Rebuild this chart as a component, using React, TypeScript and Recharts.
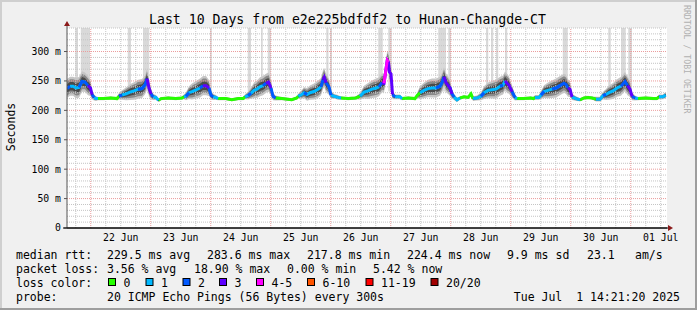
import {
  Area,
  CartesianGrid,
  ComposedChart,
  Line,
  ReferenceArea,
  ReferenceLine,
  XAxis,
  YAxis,
} from "recharts";

// time axis: hours since 22 Jun 00:00
const hours = [
  -9.5, -8.3, -7.1, -5.9, -4.7, -3.5, -2.3, -1.1, -0.1, 0.5, 1.3, 2.1, 2.9, 5, 8, 10.5,
  11.3, 12.5, 14.1, 15.7, 17.3, 18.9, 20.5, 21.7, 22.5, 23.3, 24.1, 24.9, 26.1, 27.1, 28.1, 31, 34, 36.5,
  37.3, 38.1, 39.3, 40.5, 42.1, 43.7, 44.9, 46.1, 47.3, 48.1, 48.9, 50.1, 50.9, 54, 56.4, 59, 61,
  61.7, 62.9, 64.1, 65.3, 66.5, 67.7, 68.9, 70.1, 71.1, 72.1, 72.9, 73.9, 76.5, 80.4, 82.4,
  83, 84.1, 85.3, 86.5, 87.7, 89.3, 90.9, 92.1, 92.9, 93.4, 94.1, 95.3, 96.1, 97.3, 98.9, 100.1, 103, 106,
  107.7, 109.3, 110.9, 112.5, 114.1, 115.3, 116.5, 117.3, 118.1, 118.6, 119.1, 119.5, 120.1, 120.7, 121.7, 123.7, 124.5, 127, 129.7,
  130.5, 131.7, 133.3, 134.9, 136.5, 138.1, 139.7, 140.5, 141.3, 142.1, 142.9, 143.7, 144.5, 145.3, 146.5, 147.7, 149.3, 150.9, 152.1, 152.9, 154.5,
  156.1, 157.3, 158.9, 160.5, 162.1, 163.7, 164.9, 165.7, 166.5, 167.3, 168.5, 169.7, 170.5, 173, 176, 177.1,
  177.7, 179.3, 180.1, 181.3, 182.9, 184.5, 186.1, 187.7, 189.3, 190.1, 190.9, 191.7, 192.5, 194.1, 195.7, 197.3, 198.9, 200.5, 202.1, 203.7,
  204.9, 206.1, 207.3, 208.9, 210.5, 212.1, 213.7, 214.7, 215.7, 216.5, 217.7, 218.9, 222, 225, 226.4, 227.3, 228.9, 230,
];

// median rtt in ms
const median = [
  237, 241, 241, 238, 239, 249, 248, 242, 238, 227, 222, 220, 220, 220, 221, 220,
  224, 226, 228, 231, 233, 236, 237, 243, 254, 238, 228, 223, 222, 217, 220, 221, 220, 221,
  223, 224, 230, 232, 235, 238, 242, 242, 238, 226, 223, 222, 220, 220, 218, 220, 220,
  223, 225, 229, 234, 236, 240, 242, 246, 248, 238, 224, 221, 220, 218, 221,
  224, 226, 230, 227, 230, 232, 236, 240, 252, 256, 247, 240, 226, 224, 222, 221, 220, 221,
  224, 231, 233, 236, 238, 240, 247, 246, 270, 285, 282, 265, 262, 227, 223, 223, 220, 221, 220,
  225, 230, 234, 237, 238, 238, 241, 247, 257, 247, 243, 238, 228, 223, 218, 221, 223, 222, 228, 220, 221,
  224, 230, 234, 235, 236, 241, 243, 250, 246, 243, 232, 222, 220, 220, 221, 220,
  222, 222, 226, 232, 234, 236, 238, 242, 246, 244, 238, 236, 223, 220, 218, 221, 222, 221, 219, 219,
  225, 227, 230, 233, 238, 241, 249, 242, 236, 224, 221, 220, 221, 220, 220, 223, 223, 226,
];

// loss bucket index into lossColors
const lossBucket = [
  2, 1, 1, 1, 2, 1, 2, 3, 3, 2, 1, 1, 0, 0, 0, 0,
  2, 1, 1, 1, 1, 2, 1, 2, 3, 3, 2, 1, 1, 0, 0, 0, 0, 0,
  1, 2, 1, 1, 1, 2, 3, 3, 2, 2, 1, 1, 0, 0, 0, 0, 0,
  1, 2, 1, 1, 1, 1, 2, 3, 3, 2, 2, 0, 0, 0, 0,
  1, 1, 2, 1, 1, 1, 1, 2, 3, 3, 2, 2, 1, 1, 1, 0, 0, 0,
  1, 1, 1, 1, 1, 2, 3, 4, 3, 4, 3, 3, 3, 2, 1, 1, 0, 0, 0,
  0, 1, 1, 1, 1, 2, 1, 2, 3, 3, 2, 3, 2, 1, 1, 0, 0, 0, 0, 1, 1,
  2, 1, 1, 1, 1, 2, 1, 3, 3, 3, 2, 1, 0, 0, 0, 0,
  1, 1, 2, 1, 1, 2, 1, 2, 2, 2, 3, 3, 1, 1, 0, 0, 0, 0, 1, 1,
  2, 1, 1, 1, 1, 2, 2, 3, 3, 2, 1, 0, 0, 0, 0, 1, 1, 2,
];

// half height of the smoke around the median, ms
const smokeSpread = [
  12, 12, 12, 13, 13, 13, 12, 12, 10, 6, 4, 3, 2, 2, 2, 2,
  4, 6, 8, 10, 11, 12, 12, 12, 12, 11, 7, 4, 3, 2, 2, 2, 2, 2,
  3, 5, 8, 10, 11, 12, 12, 12, 10, 6, 4, 3, 2, 2, 2, 2, 2,
  3, 5, 7, 10, 11, 12, 12, 12, 12, 10, 5, 3, 2, 2, 2,
  3, 5, 7, 8, 9, 10, 11, 11, 12, 12, 12, 10, 5, 3, 3, 2, 2, 2,
  4, 8, 10, 11, 12, 12, 12, 12, 12, 12, 12, 12, 10, 6, 3, 3, 2, 2, 2,
  3, 8, 10, 11, 12, 12, 12, 12, 12, 12, 11, 10, 6, 4, 3, 2, 2, 2, 3, 3, 3,
  5, 8, 10, 11, 12, 12, 12, 12, 12, 11, 8, 4, 2, 2, 2, 2,
  3, 3, 5, 8, 10, 11, 12, 12, 12, 12, 11, 10, 4, 3, 2, 2, 2, 2, 3, 3,
  5, 7, 9, 10, 11, 12, 12, 12, 10, 5, 3, 2, 2, 2, 2, 3, 3, 4,
];

// slow pings going off the top of the graph
const spikeStart = [-6.2, -4.0, 14.8, 20.9, 47.7, 62.8, 68.1, 70.8, 94.2, 95.7, 115.0, 119.0, 139.0, 143.0, 158.1, 160.1, 162.1, 165.7, 188.8, 207.0, 212.1, 215.0];
const spikeEnd = [-5.1, -0.3, 16.1, 23.4, 48.4, 64.1, 68.8, 72.1, 95.1, 96.5, 116.8, 120.4, 142.1, 144.1, 159.0, 161.0, 163.0, 166.6, 190.8, 208.0, 214.0, 216.5];

const dayTicks = [12, 36, 60, 84, 108, 132, 156, 180, 204, 228];
const dayLabels = ["22 Jun", "23 Jun", "24 Jun", "25 Jun", "26 Jun", "27 Jun", "28 Jun", "29 Jun", "30 Jun", "01 Jul"];
const yTicks = [0, 50, 100, 150, 200, 250, 300];

const lossColors = ["#26ff00", "#00b8ff", "#0059ff", "#5e00ff", "#ff00ff", "#ff5500", "#ff0000", "#a10000"];
const lossLabels = ["0", "1", "2", "3", "4-5", "6-10", "11-19", "20/20"];

const rttStats = ["229.5 ms avg", "283.6 ms max", "217.8 ms min", "224.4 ms now", "9.9 ms sd", "23.1", "am/s"];
const lossStats = ["3.56 % avg", "18.90 % max", "0.00 % min", "5.42 % now"];

const rows = hours.map((h, i) => {
  const m = median[i];
  const s = smokeSpread[i];
  const row: Record<string, unknown> = {
    h,
    med: m,
    s1: [m - s * 1.35, m + s * 1.35],
    s2: [m - s * 1.0, m + s * 1.0],
    s3: [m - s * 0.6, m + s * 0.6],
  };
  lossColors.forEach((_, c) => {
    row[`c${c}`] = lossBucket[i] === c || (i > 0 && lossBucket[i - 1] === c) ? m : null;
  });
  return row;
});

const minorY: number[] = [];
for (let v = 10; v <= 340; v += 10) if (v % 50 !== 0) minorY.push(v);
const majorY = [50, 100, 150, 200, 250, 300];
const minorX: number[] = [];
for (let h = -6; h <= 228; h += 6) if (h % 24 !== 0) minorX.push(h);
const majorX = [0, 24, 48, 72, 96, 120, 144, 168, 192, 216];

const MONO = "DejaVu Sans Mono, monospace";
const rttX = [107, 207, 307, 407, 507, 587, 635];
const lossX = [107, 194, 287, 373];
const boxX = [108.5, 146, 183, 219.5, 256.5, 307.5, 366, 431];

export default function App() {
  return (
    <div style={{ position: "relative", width: 697, height: 310, background: "#f0f0f0" }}>
      <style>{"body{margin:0}"}</style>
      <ComposedChart
        width={697}
        height={310}
        data={rows}
        margin={{ top: 28, right: 30, bottom: 62, left: 0 }}
        style={{ position: "absolute", left: 0, top: 0 }}
      >
        <CartesianGrid horizontal={false} vertical={false} fill="#ffffff" />
        <XAxis
          dataKey="h"
          type="number"
          domain={[-9.5, 230.5]}
          allowDataOverflow
          ticks={dayTicks}
          interval={0}
          tickFormatter={(v: number) => dayLabels[dayTicks.indexOf(v)] ?? ""}
          tick={{ fontSize: 9.8, fill: "#000", fontFamily: MONO }}
          tickLine={false}
          tickSize={0}
          tickMargin={6}
          height={20}
          axisLine={{ stroke: "#000" }}
        />
        <YAxis
          type="number"
          domain={[0, 340]}
          allowDataOverflow
          ticks={yTicks}
          interval={0}
          width={67}
          tickFormatter={(v: number) => (v === 0 ? "0" : `${v} m`)}
          tick={{ fontSize: 9.8, fill: "#000", fontFamily: MONO }}
          tickSize={3}
          tickMargin={3}
          tickLine={{ stroke: "#555" }}
          axisLine={{ stroke: "#555" }}
        />
        {spikeStart.map((x1, i) => (
          <ReferenceArea
            key={`sp${i}`}
            x1={x1}
            x2={spikeEnd[i]}
            y1={232}
            y2={340}
            fill="#d9d9d9"
            fillOpacity={1}
            stroke="none"
            ifOverflow="hidden"
          />
        ))}
        <Area dataKey="s1" type="linear" stroke="none" fill="#c6c6c6" fillOpacity={1} isAnimationActive={false} />
        <Area dataKey="s2" type="linear" stroke="none" fill="#8a8a8a" fillOpacity={1} isAnimationActive={false} />
        <Area dataKey="s3" type="linear" stroke="none" fill="#4a4a4a" fillOpacity={1} isAnimationActive={false} />
        {minorY.map((v) => (
          <ReferenceLine key={`my${v}`} y={v} stroke="#c4c4c4" strokeDasharray="1 1" />
        ))}
        {minorX.map((v) => (
          <ReferenceLine key={`mx${v}`} x={v} stroke="#c4c4c4" strokeDasharray="1 1" />
        ))}
        {majorY.map((v) => (
          <ReferenceLine key={`My${v}`} y={v} stroke="#eb9c9c" strokeDasharray="1 1" />
        ))}
        {majorX.map((v) => (
          <ReferenceLine key={`Mx${v}`} x={v} stroke="#eb9c9c" strokeDasharray="1 1" />
        ))}
        <Line dataKey="med" type="linear" stroke="#000" strokeWidth={1} dot={false} isAnimationActive={false} />
        {lossColors.map((col, c) => (
          <Line
            key={`c${c}`}
            dataKey={`c${c}`}
            type="linear"
            stroke={col}
            strokeWidth={3}
            dot={false}
            connectNulls={false}
            isAnimationActive={false}
          />
        ))}
      </ComposedChart>
      <svg
        width={697}
        height={310}
        style={{ position: "absolute", left: 0, top: 0, pointerEvents: "none" }}
        fontFamily={MONO}
      >
        <rect x={0} y={0} width={697} height={2} fill="#cfcfcf" />
        <rect x={0} y={0} width={2} height={310} fill="#cfcfcf" />
        <rect x={695} y={0} width={2} height={310} fill="#9e9e9e" />
        <rect x={0} y={308} width={697} height={2} fill="#9e9e9e" />

        <line x1={67} y1={24} x2={67} y2={28} stroke="#555" />
        <polygon points="64,26 70,26 67,21" fill="#8b1a1a" />
        <line x1={63} y1={228} x2={668} y2={228} stroke="#000" />
        <polygon points="668,225 668,231 673,228" fill="#8b1a1a" />

        <text x={347.5} y={23.5} fontSize={13.2} textAnchor="middle" fill="#000">
          Last 10 Days from e2e225bdfdf2 to Hunan-Changde-CT
        </text>
        <text x={15} y={127} fontSize={11.5} textAnchor="middle" fill="#000" transform="rotate(-90 15 127)">
          Seconds
        </text>
        <text x={684} y={5} fontSize={8.2} fill="#b0b0b0" transform="rotate(90 684 5)">
          RRDTOOL / TOBI OETIKER
        </text>

        <g fontSize={11.5} fill="#000">
          <text x={16} y={258.5}>median rtt:</text>
          {rttStats.map((t, i) => (
            <text key={`r${i}`} x={rttX[i]} y={258.5}>{t}</text>
          ))}
          <text x={16} y={272.5}>packet loss:</text>
          {lossStats.map((t, i) => (
            <text key={`l${i}`} x={lossX[i]} y={272.5}>{t}</text>
          ))}
          <text x={16} y={286.5}>loss color:</text>
          {lossLabels.map((t, i) => (
            <g key={`b${i}`}>
              <rect x={boxX[i]} y={278.5} width={7} height={7} fill={lossColors[i]} stroke="#000" strokeWidth={1} />
              <text x={boxX[i] + 15} y={286.5}>{t}</text>
            </g>
          ))}
          <text x={16} y={300.5}>probe:</text>
          <text x={107} y={300.5}>20 ICMP Echo Pings (56 Bytes) every 300s</text>
          <text x={680} y={300.5} textAnchor="end" style={{ whiteSpace: "pre" }}>
            {"Tue Jul  1 14:21:20 2025"}
          </text>
        </g>
      </svg>
    </div>
  );
}
